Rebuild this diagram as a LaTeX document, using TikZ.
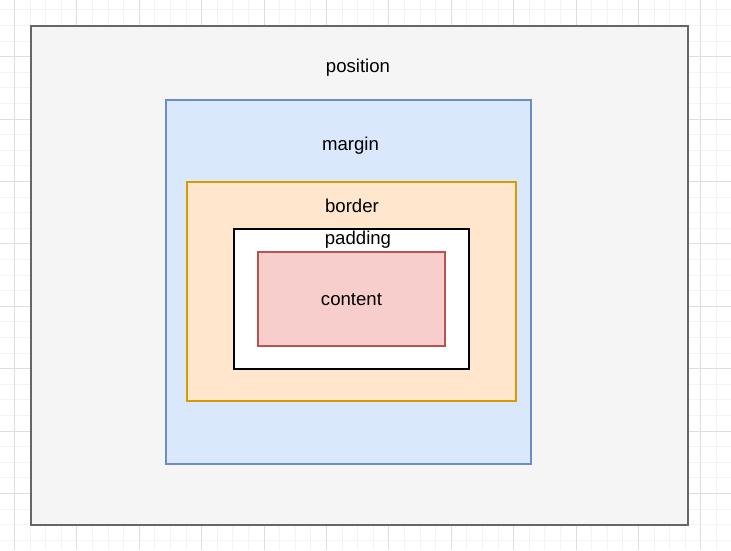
\documentclass[tikz,border=0pt]{standalone}
\usepackage{fontspec}
\setmainfont{Liberation Sans}
\usetikzlibrary{positioning}
\definecolor{posfill}{HTML}{F5F5F5}
\definecolor{posline}{HTML}{666666}
\definecolor{marfill}{HTML}{DAE8FC}
\definecolor{marline}{HTML}{6C8EBF}
\definecolor{borfill}{HTML}{FFE6CC}
\definecolor{borline}{HTML}{D79B00}
\definecolor{confill}{HTML}{F8CECC}
\definecolor{conline}{HTML}{B85450}
\definecolor{gridminor}{HTML}{F3F3F3}
\definecolor{gridmajor}{HTML}{DEDEDE}

\begin{document}
\begin{tikzpicture}[x=1pt, y=-1pt, line width=1.5pt, font=\fontsize{18.6}{22}\selectfont, box/.style={draw, rectangle, inner sep=0pt}, pos box/.style={box, fill=posfill, draw=posline, line width=2pt}, mar box/.style={box, fill=marfill, draw=marline}, bor box/.style={box, fill=borfill, draw=borline}, pad box/.style={box, fill=white, draw=black}, con box/.style={box, fill=confill, draw=conline}, label node/.style={draw=none, anchor=base, inner sep=0pt}]
\useasboundingbox (0,0) rectangle (731,550);
% grid
\foreach \i in {0,...,47}{
    \draw[gridminor, line width=1pt] (14.5+15.6*\i-15.6,0) -- (14.5+15.6*\i-15.6,550);
    \draw[gridminor, line width=1pt] (0,56.7+15.6*\i-62.4) -- (731,56.7+15.6*\i-62.4);}
\foreach \i in {0,...,12}{
    \draw[gridmajor, line width=1pt] (14.5+62.4*\i,0) -- (14.5+62.4*\i,550);
    \draw[gridmajor, line width=1pt] (0,56.7+62.4*\i-62.4) -- (731,56.7+62.4*\i-62.4);}
% boxes
\node[pos box, minimum width=657pt, minimum height=499pt](position) at (359.5,275.5){};
\node[mar box, minimum width=365pt, minimum height=364pt](margin) at (348.5,282){};
\node[bor box, minimum width=329pt, minimum height=219pt](border) at (351.5,291.5){};
\node[pad box, minimum width=235pt, minimum height=140pt](padding) at (351.5,299){};
\node[con box, minimum width=187pt, minimum height=94pt](content) at (351.5,299){};
% labels
\node[label node](position label) at (358,72){position};
\node[label node](margin label) at (350.5,150){margin};
\node[label node](border label) at (352,212){border};
\node[label node](padding label) at (358,244.5){padding};
\node[label node](content label) at (351.5,305.5){content};
\end{tikzpicture}
\end{document}
